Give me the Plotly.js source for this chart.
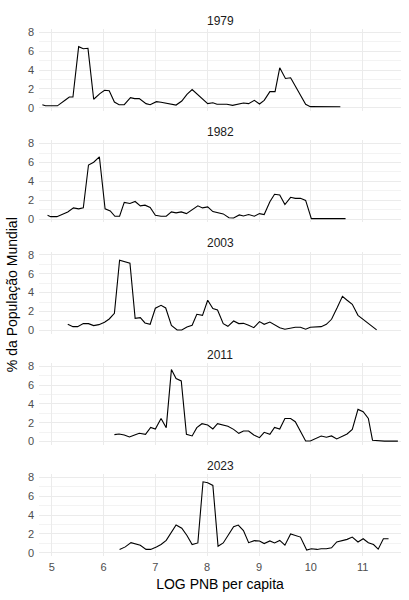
<!DOCTYPE html>
<html>
<head>
<meta charset="utf-8">
<script src="https://cdn.plot.ly/plotly-3.0.1.min.js"></script>
<style>html,body{margin:0;padding:0;background:#fff;}#chart{width:409px;height:600px;}</style>
</head>
<body>
<div id="chart"></div>
<script>
// ---- data ----
const years = ["1979", "1982", "2003", "2011", "2023"];

const x1979 = [4.82,4.88,5.11,5.19,5.27,5.34,5.41,5.52,5.61,5.70,5.81,5.93,6.02,6.11,6.21,6.30,6.40,6.52,6.60,6.69,6.82,6.90,7.02,7.11,7.22,7.31,7.40,7.51,7.61,7.71,7.80,7.91,8.01,8.11,8.19,8.29,8.38,8.49,8.60,8.70,8.80,8.91,9.01,9.10,9.21,9.31,9.40,9.51,9.61,9.70,9.81,9.90,9.99,10.57];
const y1979 = [0.32,0.20,0.20,0.48,0.85,1.14,1.14,6.48,6.26,6.30,0.90,1.50,1.85,1.80,0.60,0.32,0.32,1.07,0.96,0.96,0.43,0.32,0.64,0.57,0.46,0.39,0.28,0.71,1.42,1.92,1.46,0.89,0.43,0.53,0.36,0.36,0.36,0.25,0.39,0.50,0.43,0.78,0.39,0.78,1.71,1.71,4.23,3.10,3.17,2.28,1.25,0.36,0.11,0.10];

const x1982 = [4.92,4.98,5.10,5.21,5.31,5.42,5.52,5.61,5.71,5.81,5.92,6.03,6.13,6.22,6.31,6.40,6.51,6.61,6.71,6.80,6.90,7.00,7.11,7.21,7.31,7.40,7.50,7.60,7.69,7.82,7.91,8.01,8.11,8.21,8.31,8.42,8.51,8.62,8.70,8.80,8.91,9.01,9.10,9.21,9.30,9.40,9.50,9.61,9.70,9.80,9.90,10.01,10.67];
const y1982 = [0.39,0.25,0.25,0.47,0.75,1.18,1.08,1.18,5.73,6.02,6.60,1.08,0.86,0.29,0.29,1.76,1.65,1.86,1.40,1.47,1.22,0.39,0.29,0.29,0.75,0.65,0.75,0.57,0.93,1.40,1.18,1.29,0.79,0.65,0.54,0.14,0.11,0.43,0.32,0.47,0.29,0.57,0.47,1.83,2.62,2.55,1.54,2.30,2.19,2.19,1.97,0.04,0.04];

const x2003 = [5.31,5.41,5.50,5.61,5.71,5.81,5.91,6.02,6.11,6.21,6.31,6.40,6.51,6.61,6.71,6.80,6.90,7.00,7.11,7.20,7.31,7.42,7.51,7.61,7.71,7.80,7.91,8.01,8.11,8.20,8.31,8.40,8.51,8.61,8.70,8.80,8.90,9.01,9.10,9.21,9.30,9.40,9.50,9.61,9.70,9.80,9.90,9.99,10.10,10.20,10.30,10.40,10.51,10.61,10.70,10.80,10.91,11.01,11.11,11.27];
const y2003 = [0.64,0.39,0.39,0.71,0.71,0.50,0.60,0.85,1.20,1.80,7.43,7.29,7.11,1.27,1.35,0.78,0.64,2.34,2.65,2.37,0.53,0.04,0.04,0.35,0.53,1.70,1.59,3.19,2.30,2.16,0.71,0.42,0.99,0.71,0.74,0.53,0.28,0.92,0.64,0.88,0.57,0.28,0.11,0.21,0.32,0.32,0.11,0.32,0.39,0.39,0.64,1.17,2.41,3.61,3.19,2.76,1.59,1.17,0.74,0.04];

const x2011 = [6.21,6.30,6.40,6.50,6.60,6.69,6.81,6.91,7.00,7.11,7.21,7.31,7.40,7.50,7.60,7.71,7.80,7.90,8.01,8.11,8.20,8.31,8.40,8.51,8.61,8.70,8.80,8.90,9.01,9.10,9.21,9.30,9.40,9.50,9.61,9.70,9.80,9.90,9.99,10.10,10.20,10.30,10.40,10.50,10.61,10.70,10.80,10.91,11.01,11.11,11.19,11.30,11.42,11.68];
const y2011 = [0.74,0.81,0.70,0.49,0.70,0.88,0.77,1.51,1.34,2.46,1.48,7.64,6.69,6.44,0.77,0.60,1.48,1.90,1.76,1.34,1.90,1.76,1.62,1.30,0.88,1.13,1.13,0.70,0.42,0.99,0.77,1.51,1.34,2.46,2.46,2.11,1.06,0.07,0.07,0.35,0.60,0.46,0.60,0.28,0.56,0.81,1.30,3.42,3.17,2.46,0.15,0.10,0.05,0.05];

const x2023 = [6.31,6.42,6.53,6.61,6.71,6.82,6.91,7.02,7.11,7.21,7.31,7.40,7.51,7.61,7.71,7.82,7.92,8.01,8.11,8.21,8.31,8.40,8.51,8.60,8.70,8.80,8.91,9.01,9.10,9.21,9.30,9.40,9.50,9.61,9.70,9.80,9.92,10.01,10.12,10.20,10.30,10.40,10.50,10.61,10.70,10.80,10.91,11.01,11.11,11.21,11.30,11.40,11.50];
const y2023 = [0.35,0.62,1.07,0.97,0.80,0.35,0.35,0.62,0.87,1.31,2.25,2.94,2.60,1.83,0.87,1.04,7.54,7.44,7.16,0.69,1.04,1.83,2.77,2.94,2.35,1.07,1.28,1.25,0.97,1.25,1.04,1.31,0.80,2.00,1.83,1.66,0.28,0.42,0.35,0.42,0.42,0.52,1.14,1.31,1.42,1.66,1.14,1.49,1.07,0.87,0.38,1.49,1.49];

const xs = [x1979, x1982, x2003, x2011, x2023];
const ys = [y1979, y1982, y2003, y2011, y2023];
const yTicks = [0, 2, 4, 6, 8];
const xTicks = [5, 6, 7, 8, 9, 10, 11];

// ---- layout ----
const FONT = '"Liberation Sans", Arial, sans-serif';
const plotH = 527;
const domains = [[0.8444, 1.0], [0.6332, 0.7888], [0.4220, 0.5776], [0.2108, 0.3664], [0.0, 0.1552]];

const traces = years.map((yr, i) => ({
  x: xs[i], y: ys[i], type: 'scatter', mode: 'lines',
  line: {color: '#000000', width: 1.1},
  xaxis: 'x', yaxis: i === 0 ? 'y' : 'y' + (i + 1),
  hoverinfo: 'x+y', showlegend: false
}));

const layout = {
  width: 409, height: 600,
  margin: {l: 39, r: 8, t: 29, b: 44},
  paper_bgcolor: '#ffffff', plot_bgcolor: '#ffffff',
  font: {family: FONT, color: '#1A1A1A'},
  showlegend: false,
  xaxis: {
    anchor: 'y5', range: [4.755, 11.74],
    tickvals: xTicks, ticktext: xTicks.map(String),
    showgrid: true, gridcolor: '#EBEBEB', gridwidth: 1,
    zeroline: false, showline: false, ticks: '',
    ticklabelstandoff: 3,
    tickfont: {family: FONT, size: 11, color: '#4D4D4D'},
    title: {text: 'LOG PNB per capita', font: {family: FONT, size: 14, color: '#000000'}, standoff: 7}
  },
  annotations: []
};

years.forEach((yr, i) => {
  const key = i === 0 ? 'yaxis' : 'yaxis' + (i + 1);
  layout[key] = {
    domain: domains[i], anchor: 'x', range: [-0.35, 8.35],
    tickvals: yTicks, ticktext: yTicks.map(String),
    showgrid: true, gridcolor: '#EBEBEB', gridwidth: 1,
    minor: {tickvals: [1, 3, 5, 7], showgrid: true, gridcolor: '#EBEBEB', gridwidth: 0.6, ticks: ''},
    zeroline: false, showline: false, ticks: '',
    ticklabelstandoff: 4,
    tickfont: {family: FONT, size: 11, color: '#4D4D4D'}
  };
  layout.annotations.push({
    text: yr, xref: 'paper', yref: 'paper',
    x: 0.5, y: domains[i][1] + 8.3 / plotH,
    xanchor: 'center', yanchor: 'middle', showarrow: false,
    font: {family: FONT, size: 12, color: '#1A1A1A'}
  });
});

layout.annotations.push({
  text: '% da População Mundial', xref: 'paper', yref: 'paper',
  x: -27 / 362, xanchor: 'center', y: 0.495, yanchor: 'middle',
  textangle: -90, showarrow: false,
  font: {family: FONT, size: 14, color: '#000000'}
});

Plotly.newPlot('chart', traces, layout, {staticPlot: true, displayModeBar: false});
</script>
</body>
</html>
